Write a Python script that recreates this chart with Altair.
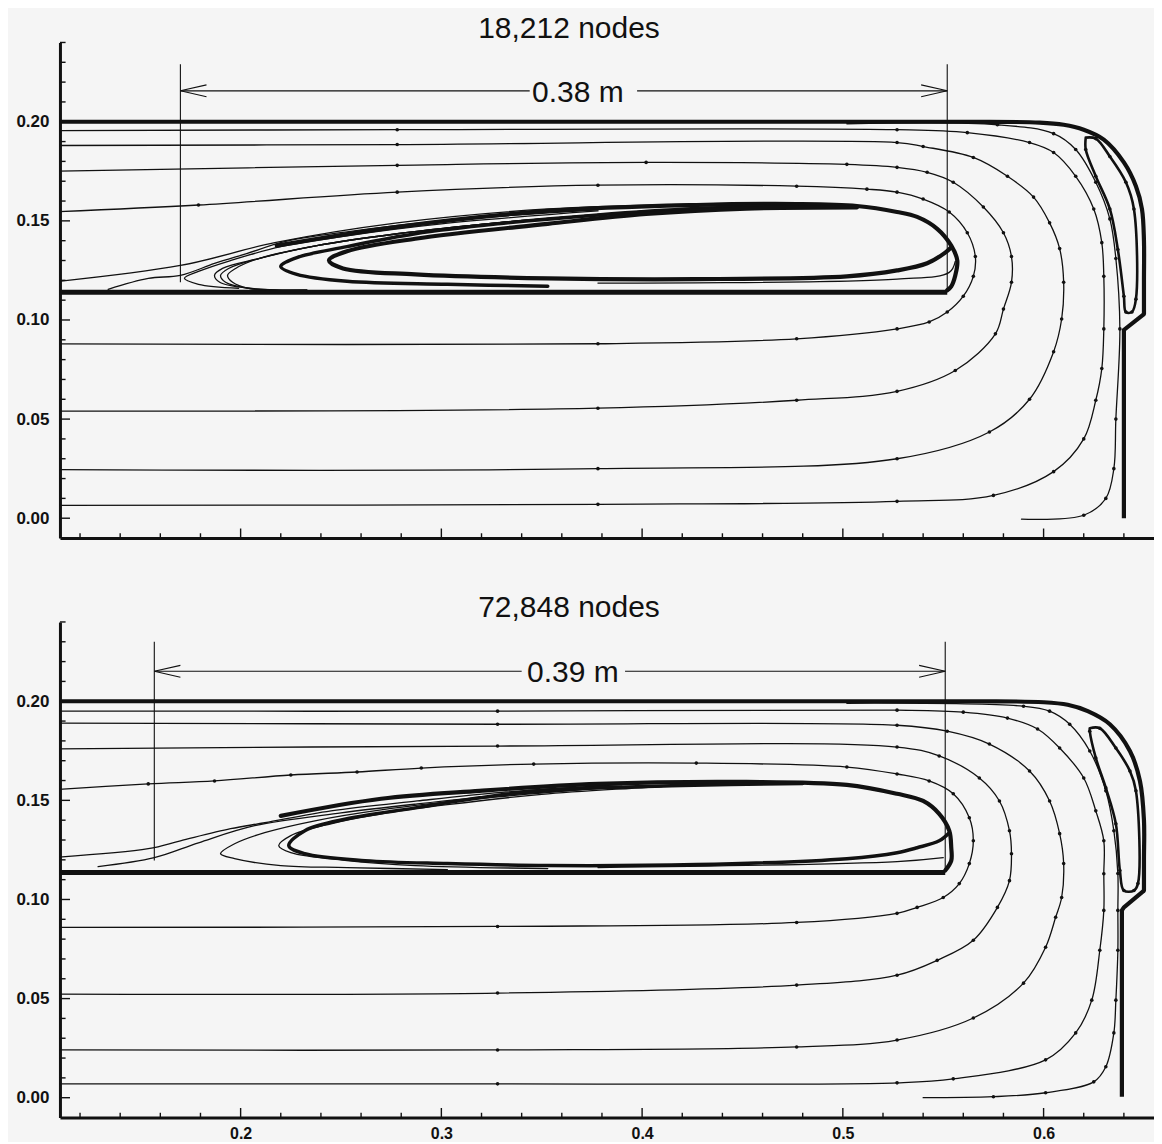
import altair as alt
import pandas as pd

X_DOMAIN = [0.11, 0.655]
Y_DOMAIN = [-0.01, 0.24]
X_MAJOR = [0.2, 0.3, 0.4, 0.5, 0.6]
X_MINOR = [0.12, 0.14, 0.16, 0.18, 0.22, 0.24, 0.26, 0.28, 0.32, 0.34, 0.36, 0.38,
           0.42, 0.44, 0.46, 0.48, 0.52, 0.54, 0.56, 0.58, 0.62, 0.64]
Y_MAJOR = [0.00, 0.05, 0.10, 0.15, 0.20]
Y_MINOR = [0.01, 0.02, 0.03, 0.04, 0.06, 0.07, 0.08, 0.09, 0.11, 0.12, 0.13, 0.14,
           0.16, 0.17, 0.18, 0.19, 0.21, 0.22, 0.23, 0.24]

THICK, MID, THIN, DIM = 4.2, 2.6, 1.3, 1.1

# ---------------- top panel (18,212 nodes) ----------------
TOP_WALL = [(0.105, 0.200), (0.400, 0.200), (0.560, 0.200), (0.598, 0.1996), (0.610, 0.1985),
            (0.620, 0.196), (0.630, 0.191), (0.640, 0.1795), (0.646, 0.1675), (0.649, 0.156),
            (0.650, 0.140), (0.650, 0.120), (0.650, 0.103)]
TOP_WALL_END = [(0.650, 0.103), (0.640, 0.095), (0.640, 0.000)]
TOP_SHELF = [(0.105, 0.114), (0.552, 0.114)]
TOP_S1 = [(0.105, 0.1955), (0.278, 0.196), (0.527, 0.196), (0.562, 0.1945), (0.593, 0.1895),
          (0.605, 0.1845), (0.616, 0.1725), (0.625, 0.156), (0.629, 0.139), (0.630, 0.122),
          (0.630, 0.0955), (0.629, 0.0755), (0.626, 0.0595), (0.620, 0.040), (0.605, 0.0235),
          (0.575, 0.0115), (0.527, 0.0085), (0.378, 0.007), (0.105, 0.0065)]
TOP_S2 = [(0.105, 0.188), (0.278, 0.1885), (0.527, 0.1895), (0.540, 0.1875), (0.565, 0.182),
          (0.582, 0.1725), (0.595, 0.162), (0.603, 0.149), (0.608, 0.136), (0.610, 0.119),
          (0.609, 0.1005), (0.605, 0.084), (0.593, 0.060), (0.573, 0.0435), (0.527, 0.030),
          (0.378, 0.025), (0.105, 0.0245)]
TOP_S3 = [(0.105, 0.175), (0.278, 0.178), (0.402, 0.1795), (0.502, 0.1785), (0.527, 0.177),
          (0.542, 0.1745), (0.555, 0.1695), (0.570, 0.157), (0.580, 0.144), (0.584, 0.132),
          (0.584, 0.119), (0.580, 0.1055), (0.576, 0.093), (0.556, 0.0745), (0.527, 0.064),
          (0.477, 0.0595), (0.378, 0.0555), (0.105, 0.054)]
TOP_S4 = [(0.105, 0.1545), (0.179, 0.158), (0.278, 0.1645), (0.378, 0.168), (0.477, 0.1675),
          (0.512, 0.166), (0.527, 0.1645), (0.540, 0.161), (0.553, 0.1545), (0.562, 0.144),
          (0.566, 0.132), (0.565, 0.122), (0.560, 0.112), (0.552, 0.104), (0.543, 0.099),
          (0.527, 0.0955), (0.477, 0.0905), (0.378, 0.088), (0.105, 0.088)]
TOP_S5 = [(0.502, 0.199), (0.577, 0.1985), (0.605, 0.194), (0.616, 0.186), (0.626, 0.1695),
          (0.633, 0.151), (0.636, 0.131), (0.638, 0.0955), (0.636, 0.050), (0.635, 0.025),
          (0.631, 0.010), (0.620, 0.0015), (0.589, -0.0005)]
TOP_CORNER = [(0.621, 0.192), (0.626, 0.1915), (0.633, 0.1825), (0.641, 0.1695), (0.645, 0.156),
              (0.646, 0.1105), (0.644, 0.104), (0.641, 0.104), (0.640, 0.112), (0.637, 0.1355),
              (0.633, 0.156), (0.626, 0.1725), (0.621, 0.186), (0.621, 0.192)]
TOP_O1 = [(0.105, 0.119), (0.170, 0.1275), (0.217, 0.139), (0.278, 0.149), (0.353, 0.156),
          (0.427, 0.1585), (0.477, 0.159)]
TOP_O2 = [(0.134, 0.1155), (0.154, 0.121), (0.170, 0.1225), (0.187, 0.1285), (0.203, 0.1335),
          (0.222, 0.1395), (0.253, 0.1445), (0.300, 0.150), (0.378, 0.1555)]
TOP_BUNDLE = [(0.218, 0.1375), (0.278, 0.147), (0.353, 0.155), (0.427, 0.158), (0.477, 0.1585),
              (0.507, 0.1575), (0.527, 0.1545), (0.537, 0.152), (0.547, 0.146), (0.554, 0.1375),
              (0.557, 0.130), (0.556, 0.1225), (0.554, 0.117), (0.552, 0.115)]
TOP_UA = [(0.199, 0.116), (0.179, 0.118), (0.172, 0.121), (0.179, 0.1245), (0.195, 0.130),
          (0.220, 0.137), (0.253, 0.1425), (0.300, 0.1485), (0.378, 0.155)]
TOP_UB1 = [(0.233, 0.115), (0.204, 0.116), (0.1896, 0.119), (0.187, 0.1225), (0.191, 0.126),
           (0.209, 0.131), (0.238, 0.1375), (0.278, 0.1435), (0.328, 0.149), (0.402, 0.155)]
TOP_UB2 = [(0.233, 0.115), (0.204, 0.116), (0.1925, 0.119), (0.190, 0.1225), (0.194, 0.126),
           (0.209, 0.131), (0.238, 0.1375), (0.278, 0.1435), (0.328, 0.149), (0.402, 0.155)]
TOP_UB3 = [(0.233, 0.115), (0.204, 0.116), (0.196, 0.119), (0.1935, 0.1225), (0.1975, 0.126),
           (0.209, 0.131), (0.238, 0.1375), (0.278, 0.1435), (0.328, 0.149), (0.402, 0.155)]
TOP_UC = [(0.353, 0.117), (0.303, 0.118), (0.253, 0.1195), (0.228, 0.123), (0.220, 0.127),
          (0.228, 0.1315), (0.253, 0.137), (0.287, 0.1435), (0.328, 0.1485), (0.378, 0.1530),
          (0.427, 0.1562), (0.477, 0.1578)]
TOP_UD = [(0.507, 0.1568), (0.452, 0.1562), (0.402, 0.1535), (0.353, 0.1485), (0.287, 0.141),
          (0.253, 0.1347), (0.244, 0.130), (0.251, 0.126), (0.287, 0.123), (0.353, 0.121),
          (0.427, 0.1206), (0.502, 0.122), (0.527, 0.125), (0.542, 0.1286), (0.551, 0.134),
          (0.554, 0.1367)]
TOP_LOW = [(0.378, 0.1186), (0.527, 0.1206), (0.553, 0.124), (0.556, 0.1296)]
TOP_DIM = [[(0.170, 0.2290), (0.170, 0.1190)], [(0.552, 0.2290), (0.552, 0.1156)],
           [(0.170, 0.2156), (0.344, 0.2156)], [(0.3975, 0.2156), (0.552, 0.2156)],
           [(0.183, 0.2186), (0.170, 0.2156), (0.183, 0.2126)],
           [(0.539, 0.2186), (0.552, 0.2156), (0.539, 0.2126)]]
TOP_LABEL = [(0.368, 0.2156, "0.38 m")]

# ---------------- bottom panel (72,848 nodes) ----------------
BOT_WALL = [(0.105, 0.200), (0.400, 0.200), (0.565, 0.200), (0.600, 0.1995), (0.612, 0.1982),
            (0.622, 0.195), (0.633, 0.1884), (0.643, 0.1749), (0.648, 0.1598), (0.650, 0.140),
            (0.650, 0.120), (0.650, 0.1045)]
BOT_WALL_END = [(0.650, 0.1045), (0.640, 0.096), (0.639, 0.0945), (0.639, 0.0005)]
BOT_SHELF = [(0.105, 0.1136), (0.551, 0.1136)]
BOT_S1 = [(0.105, 0.195), (0.328, 0.195), (0.527, 0.1955), (0.560, 0.1945), (0.582, 0.1915),
          (0.597, 0.186), (0.608, 0.1764), (0.620, 0.1613), (0.626, 0.1447), (0.630, 0.1296),
          (0.630, 0.113), (0.630, 0.0945), (0.628, 0.0744), (0.624, 0.0492), (0.616, 0.0327),
          (0.601, 0.0191), (0.555, 0.0095), (0.527, 0.0075), (0.328, 0.007), (0.105, 0.007)]
BOT_S2 = [(0.105, 0.189), (0.328, 0.1884), (0.527, 0.1879), (0.552, 0.1849), (0.573, 0.1784),
          (0.593, 0.1648), (0.603, 0.1497), (0.608, 0.1332), (0.610, 0.1181), (0.609, 0.101),
          (0.606, 0.091), (0.601, 0.0759), (0.590, 0.0578), (0.565, 0.0402), (0.527, 0.0291),
          (0.477, 0.0256), (0.328, 0.0241), (0.105, 0.0241)]
BOT_S3 = [(0.105, 0.1759), (0.328, 0.1774), (0.527, 0.1769), (0.548, 0.1724), (0.568, 0.1613),
          (0.578, 0.1497), (0.583, 0.1347), (0.584, 0.1231), (0.583, 0.1095), (0.577, 0.096),
          (0.565, 0.0794), (0.547, 0.0693), (0.527, 0.0618), (0.477, 0.0568), (0.328, 0.0528),
          (0.105, 0.0523)]
BOT_S4 = [(0.105, 0.1553), (0.154, 0.1583), (0.187, 0.1598), (0.225, 0.1628), (0.258, 0.1643),
          (0.290, 0.1663), (0.346, 0.1683), (0.427, 0.1688), (0.502, 0.1668), (0.527, 0.1633),
          (0.543, 0.1598), (0.555, 0.1533), (0.563, 0.1412), (0.565, 0.1296), (0.563, 0.1181),
          (0.558, 0.108), (0.550, 0.101), (0.537, 0.096), (0.527, 0.093), (0.477, 0.0884),
          (0.328, 0.0864), (0.105, 0.0859)]
BOT_S5 = [(0.502, 0.199), (0.590, 0.1975), (0.603, 0.195), (0.613, 0.1884), (0.623, 0.1749),
          (0.631, 0.1548), (0.635, 0.1347), (0.637, 0.1131), (0.637, 0.0945), (0.637, 0.0744),
          (0.636, 0.0492), (0.635, 0.0327), (0.631, 0.0156), (0.625, 0.008), (0.601, 0.0025),
          (0.575, 0.0005), (0.540, 0.000)]
BOT_CORNER = [(0.623, 0.1864), (0.628, 0.1864), (0.636, 0.1764), (0.643, 0.1648), (0.646, 0.1548),
              (0.647, 0.108), (0.645, 0.1045), (0.640, 0.1045), (0.638, 0.1146), (0.636, 0.1382),
              (0.631, 0.1563), (0.626, 0.1714), (0.623, 0.1849), (0.623, 0.1864)]
BOT_O1 = [(0.105, 0.1211), (0.154, 0.1256), (0.170, 0.1296), (0.195, 0.1357), (0.212, 0.1387),
          (0.245, 0.1447), (0.288, 0.1497), (0.330, 0.1540), (0.390, 0.1580)]
BOT_O2 = [(0.129, 0.1166), (0.157, 0.1211), (0.179, 0.1286), (0.207, 0.1372), (0.250, 0.1437),
          (0.288, 0.1482), (0.330, 0.1525), (0.390, 0.1570)]
BOT_BUNDLE = [(0.220, 0.1422), (0.270, 0.1508), (0.319, 0.1548), (0.378, 0.1583), (0.452, 0.1593),
              (0.502, 0.1578), (0.527, 0.1533), (0.540, 0.1497), (0.548, 0.1432), (0.553, 0.1347),
              (0.554, 0.1261), (0.554, 0.1196), (0.551, 0.1146)]
BOT_U1 = [(0.303, 0.1151), (0.253, 0.1161), (0.220, 0.1171), (0.197, 0.1206), (0.190, 0.1231),
          (0.197, 0.1281), (0.212, 0.1337), (0.237, 0.1397), (0.270, 0.1452), (0.320, 0.1510),
          (0.380, 0.1560)]
BOT_U2 = [(0.353, 0.1156), (0.287, 0.1171), (0.253, 0.1196), (0.225, 0.1236), (0.219, 0.1271),
          (0.225, 0.1322), (0.245, 0.1382), (0.270, 0.1432), (0.303, 0.1478), (0.350, 0.1530),
          (0.410, 0.1570)]
BOT_U3 = [(0.480, 0.1585), (0.420, 0.1575), (0.353, 0.1552), (0.319, 0.1513), (0.287, 0.1462),
          (0.253, 0.1407), (0.232, 0.1347), (0.224, 0.1271), (0.232, 0.1231), (0.262, 0.1196),
          (0.303, 0.1181), (0.353, 0.1171), (0.427, 0.1176), (0.502, 0.1206), (0.527, 0.1236),
          (0.537, 0.1261), (0.548, 0.1296), (0.553, 0.1337)]
BOT_LOW = [(0.378, 0.1161), (0.527, 0.1191), (0.550, 0.1211)]
BOT_DIM = [[(0.157, 0.2300), (0.157, 0.1196)], [(0.551, 0.2300), (0.551, 0.1146)],
           [(0.157, 0.2151), (0.340, 0.2151)], [(0.3915, 0.2151), (0.551, 0.2151)],
           [(0.170, 0.2181), (0.157, 0.2151), (0.170, 0.2121)],
           [(0.538, 0.2181), (0.551, 0.2151), (0.538, 0.2121)]]
BOT_LABEL = [(0.3655, 0.2151, "0.39 m")]

FONT = "Liberation Sans"
INK = "#111111"
BG = "#f5f5f5"


def frame(lines):
    rows = []
    for k, (w, pts) in enumerate(lines):
        for i, (x, y) in enumerate(pts):
            rows.append({"id": k, "i": i, "x": x, "y": y, "w": w})
    return pd.DataFrame(rows)


def markers(lines):
    rows = []
    for pts in lines:
        for x, y in pts[1:-1]:
            rows.append({"x": x, "y": y})
    return pd.DataFrame(rows)


def panel(title, smooth, straight, dotted, label, show_x_labels):
    xs = alt.Scale(domain=X_DOMAIN, nice=False, zero=False)
    ys = alt.Scale(domain=Y_DOMAIN, nice=False, zero=False)
    xaxis = alt.Axis(values=X_MAJOR, format=".1f", labels=show_x_labels, ticks=False, grid=False,
                     domainWidth=3, domainColor=INK, labelFont=FONT, labelFontSize=16,
                     labelFontWeight="bold", labelColor=INK, labelPadding=8, title=None,
                     minExtent=0)
    yaxis = alt.Axis(values=Y_MAJOR, format=".2f", ticks=False, grid=False, domainWidth=3,
                     domainColor=INK, labelFont=FONT, labelFontSize=17, labelFontWeight="bold",
                     labelColor=INK, labelPadding=11, title=None, minExtent=52, maxExtent=52)
    X = alt.X("x:Q", scale=xs, axis=xaxis)
    Y = alt.Y("y:Q", scale=ys, axis=yaxis)

    smooth_layer = alt.Chart(frame(smooth)).mark_line(
        color=INK, interpolate="catmull-rom", clip=True, strokeCap="round", strokeJoin="round"
    ).encode(x=X, y=Y, detail="id:N", order="i:Q", strokeWidth=alt.StrokeWidth("w:Q", scale=None))
    straight_layer = alt.Chart(frame(straight)).mark_line(
        color=INK, clip=True, strokeCap="butt", strokeJoin="miter"
    ).encode(x=X, y=Y, detail="id:N", order="i:Q", strokeWidth=alt.StrokeWidth("w:Q", scale=None))
    dot_layer = alt.Chart(markers(dotted)).mark_circle(
        color=INK, size=13, opacity=1, clip=True
    ).encode(x=X, y=Y)

    tx = X_DOMAIN[0]
    ty = Y_DOMAIN[0]
    ytick = pd.DataFrame({"x": [tx] * (len(Y_MAJOR) + len(Y_MINOR)),
                          "x2": [tx + 0.005] * len(Y_MAJOR) + [tx + 0.0028] * len(Y_MINOR),
                          "y": Y_MAJOR + Y_MINOR})
    xtick = pd.DataFrame({"y": [ty] * (len(X_MAJOR) + len(X_MINOR)),
                          "y2": [ty + 0.0048] * len(X_MAJOR) + [ty + 0.0024] * len(X_MINOR),
                          "x": X_MAJOR + X_MINOR})
    ytick_layer = alt.Chart(ytick).mark_rule(color=INK, strokeWidth=1.4).encode(x=X, x2="x2:Q", y=Y)
    xtick_layer = alt.Chart(xtick).mark_rule(color=INK, strokeWidth=1.4).encode(x=X, y=Y, y2="y2:Q")

    lab = pd.DataFrame([{"x": x, "y": y, "t": t} for x, y, t in label])
    text_layer = alt.Chart(lab).mark_text(
        font=FONT, fontSize=30, color=INK, align="center", baseline="middle", dy=2
    ).encode(x=X, y=Y, text="t:N")

    return alt.layer(straight_layer, smooth_layer, dot_layer, ytick_layer, xtick_layer,
                     text_layer).properties(
        width=1095, height=496,
        view=alt.ViewBackground(stroke="transparent", strokeWidth=0),
        title=alt.TitleParams(title, fontSize=30, font=FONT, fontWeight="normal", color=INK,
                              dx=-38, offset=-2, anchor="middle"),
    )


top_smooth = [(THICK, TOP_WALL), (THIN, TOP_S1), (THIN, TOP_S2), (THIN, TOP_S3), (THIN, TOP_S4),
              (THIN, TOP_S5), (MID, TOP_CORNER), (THIN, TOP_O1), (THIN, TOP_O2),
              (THICK, TOP_BUNDLE), (THIN, TOP_UA), (THIN, TOP_UB1), (THIN, TOP_UB2),
              (THIN, TOP_UB3), (3.5, TOP_UC), (THICK, TOP_UD), (THIN, TOP_LOW)]
top_straight = [(THICK, TOP_WALL_END), (THICK + 0.6, TOP_SHELF)] + [(DIM, d) for d in TOP_DIM]
top_dotted = [TOP_S1, TOP_S2, TOP_S3, TOP_S4, TOP_S5, TOP_CORNER]

bot_smooth = [(THICK, BOT_WALL), (THIN, BOT_S1), (THIN, BOT_S2), (THIN, BOT_S3), (THIN, BOT_S4),
              (THIN, BOT_S5), (MID, BOT_CORNER), (THIN, BOT_O1), (THIN, BOT_O2),
              (THICK, BOT_BUNDLE), (THIN, BOT_U1), (THIN, BOT_U2), (3.5, BOT_U3), (THIN, BOT_LOW)]
bot_straight = [(THICK, BOT_WALL_END), (THICK + 0.6, BOT_SHELF)] + [(DIM, d) for d in BOT_DIM]
bot_dotted = [BOT_S1, BOT_S2, BOT_S3, BOT_S4, BOT_S5, BOT_CORNER]

top = panel("18,212 nodes", top_smooth, top_straight, top_dotted, TOP_LABEL, False)
bottom = panel("72,848 nodes", bot_smooth, bot_straight, bot_dotted, BOT_LABEL, True)

chart = alt.vconcat(top, bottom, spacing=54).configure_view(
    stroke="transparent", strokeWidth=0
).configure(background=BG, padding={"left": 0, "top": 5, "right": 0, "bottom": 0})

chart.save("out.html", embed_options={"renderer": "svg", "actions": False})
